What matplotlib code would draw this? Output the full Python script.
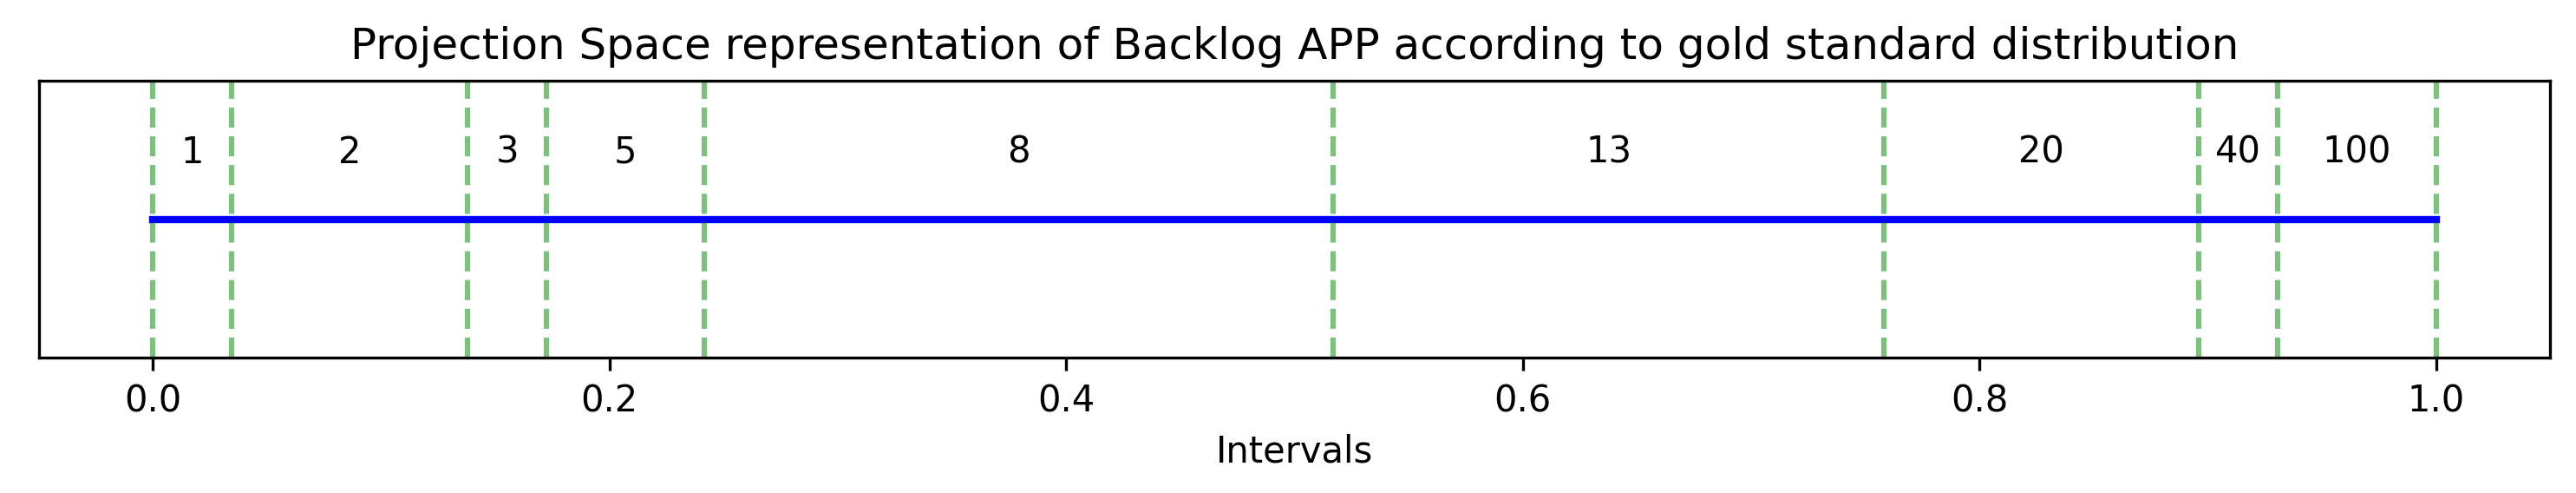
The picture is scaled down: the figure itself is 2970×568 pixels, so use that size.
import matplotlib
matplotlib.use("Agg")
import matplotlib.pyplot as plt

boundaries = [0.0, 0.0344, 0.1378, 0.1725, 0.2415, 0.5171, 0.7583, 0.8962, 0.9307, 1.0]
story_points = ["1", "2", "3", "5", "8", "13", "20", "40", "100"]
title = "Projection Space representation of Backlog APP according to gold standard distribution"

fig = plt.figure(figsize=(9.9, 568 / 300), dpi=300)
ax = fig.add_axes([44.6 / 2970, 1 - 412 / 568, (2940.3 - 44.6) / 2970, (412 - 93) / 568])

ax.plot([boundaries[0], boundaries[-1]], [0, 0], color="blue", lw=2)
for b in boundaries:
    ax.axvline(b, color="g", ls="--", alpha=0.5, lw=1.5)
for i, lab in enumerate(story_points):
    mid = (boundaries[i] + boundaries[i + 1]) / 2
    ax.text(mid, 0.48, lab, ha="center", va="center", fontsize=10)

ax.set_xlim(-0.05, 1.05)
ax.set_ylim(-1, 1)
ax.set_yticks([])
ax.set_xlabel("Intervals", fontsize=10)
ax.set_title(title, fontsize=12)
ax.tick_params(labelsize=10)

fig.savefig("out.png", dpi=300)
